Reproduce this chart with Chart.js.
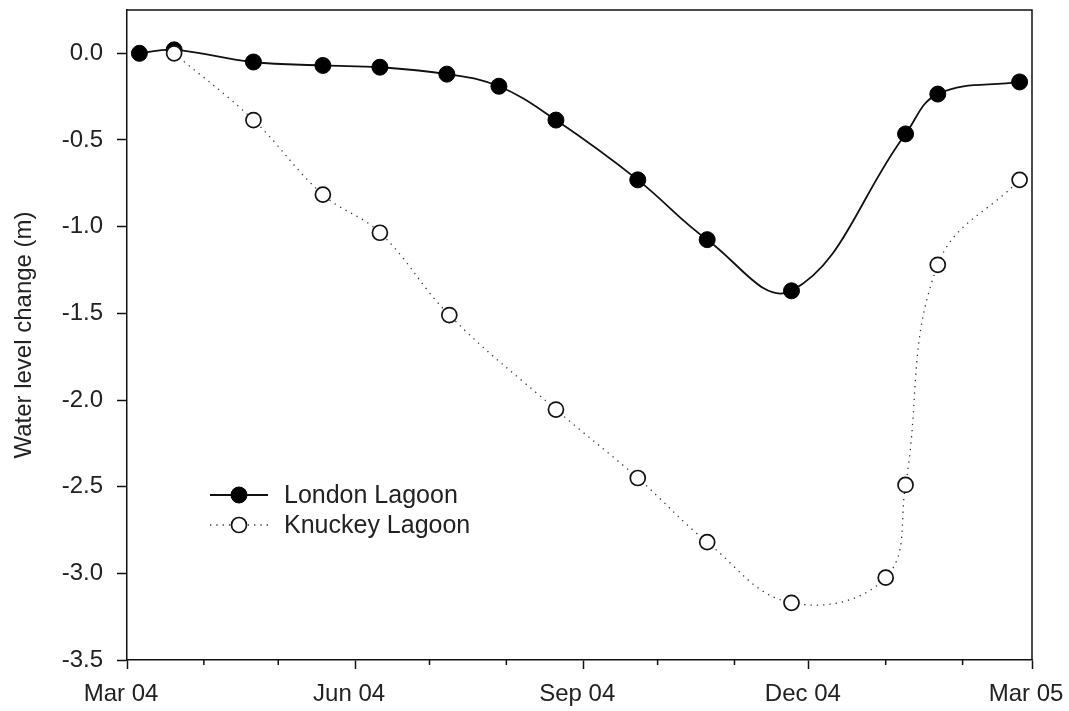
<!DOCTYPE html>
<html>
<head>
<meta charset="utf-8">
<script src="https://cdn.jsdelivr.net/npm/chart.js@4.4.1/dist/chart.umd.min.js"></script>
<style>
  body { margin: 0; background: #fff; }
  #wrap { width: 1069px; height: 711px; }
</style>
</head>
<body>
<div id="wrap"><canvas id="levelChart" width="1069" height="711"></canvas></div>
<script>
// sampling dates and water level change (m)
const londonDates = ['2004-03-06', '2004-03-20', '2004-04-21', '2004-05-19', '2004-06-11', '2004-07-08', '2004-07-29',
  '2004-08-21', '2004-09-23', '2004-10-21', '2004-11-24', '2005-01-09', '2005-01-22', '2005-02-24'];
const londonLevels = [0.0, 0.02, -0.05, -0.07, -0.08, -0.12, -0.19, -0.385, -0.73, -1.075, -1.37, -0.465, -0.235, -0.165];

const knuckeyDates = ['2004-03-20', '2004-04-21', '2004-05-19', '2004-06-11', '2004-07-09', '2004-08-21', '2004-09-23',
  '2004-10-21', '2004-11-24', '2005-01-01', '2005-01-09', '2005-01-22', '2005-02-24'];
const knuckeyLevels = [0.0, -0.385, -0.815, -1.035, -1.51, -2.055, -2.45, -2.82, -3.17, -3.025, -2.49, -1.22, -0.73];

// axis ticks
const majorDates = ['2004-03-01', '2004-06-01', '2004-09-01', '2004-12-01', '2005-03-01'];
const majorLabels = ['Mar 04', 'Jun 04', 'Sep 04', 'Dec 04', 'Mar 05'];
const minorDates = ['2004-04-01', '2004-05-01', '2004-07-01', '2004-08-01', '2004-10-01', '2004-11-01', '2005-01-01', '2005-02-01'];
const yTicks = [0.0, -0.5, -1.0, -1.5, -2.0, -2.5, -3.0, -3.5];

const FONT = '"Liberation Sans", Arial, Helvetica, sans-serif';

// days since 1 Mar 2004
const dayOf = (s) => {
  const p = s.split('-').map(Number);
  return (Date.UTC(p[0], p[1] - 1, p[2]) - Date.UTC(2004, 2, 1)) / 86400000;
};

const toPoints = (dates, vals) => dates.map((d, i) => ({ x: dayOf(d), y: vals[i] }));
const majorDays = majorDates.map(dayOf);
const minorDays = minorDates.map(dayOf);

// box round the plot + minor ticks on x
const framePlugin = {
  id: 'frame',
  afterDraw(chart) {
    const { ctx, chartArea: a, scales } = chart;
    ctx.save();
    ctx.strokeStyle = '#111';
    ctx.lineWidth = 1.5;
    ctx.beginPath();
    ctx.moveTo(a.left, a.top);
    ctx.lineTo(a.right, a.top);
    ctx.lineTo(a.right, a.bottom);
    ctx.stroke();
    ctx.beginPath();
    minorDays.forEach(d => {
      const x = scales.x.getPixelForValue(d);
      ctx.moveTo(x, a.bottom);
      ctx.lineTo(x, a.bottom + 5);
    });
    ctx.stroke();
    ctx.restore();
  }
};

// legend inside the plot
const legendPlugin = {
  id: 'innerLegend',
  afterDraw(chart) {
    const { ctx } = chart;
    const rows = [
      { ds: chart.data.datasets[1], y: 495 },
      { ds: chart.data.datasets[0], y: 525 },
    ];
    ctx.save();
    rows.forEach(r => {
      ctx.strokeStyle = r.ds.borderColor;
      ctx.lineWidth = r.ds.borderWidth;
      ctx.setLineDash(r.ds.borderDash || []);
      ctx.beginPath();
      ctx.moveTo(210, r.y);
      ctx.lineTo(268, r.y);
      ctx.stroke();
      ctx.setLineDash([]);
      ctx.beginPath();
      ctx.arc(239, r.y, r.ds.pointRadius, 0, Math.PI * 2);
      ctx.fillStyle = r.ds.pointBackgroundColor;
      ctx.fill();
      ctx.lineWidth = r.ds.pointBorderWidth;
      ctx.strokeStyle = r.ds.pointBorderColor;
      ctx.stroke();
      ctx.fillStyle = '#222';
      ctx.font = '25px ' + FONT;
      ctx.textBaseline = 'middle';
      ctx.fillText(r.ds.label, 284, r.y + 1);
    });
    ctx.restore();
  }
};

new Chart(document.getElementById('levelChart').getContext('2d'), {
  type: 'line',
  data: {
    datasets: [
      {
        label: 'Knuckey Lagoon',
        data: toPoints(knuckeyDates, knuckeyLevels),
        borderColor: '#333',
        borderWidth: 1.3,
        borderDash: [1.3, 5],
        tension: 0.4,
        pointRadius: 7.5,
        pointBackgroundColor: '#fff',
        pointBorderColor: '#111',
        pointBorderWidth: 1.7,
        order: 0,
      },
      {
        label: 'London Lagoon',
        data: toPoints(londonDates, londonLevels),
        borderColor: '#111',
        borderWidth: 1.8,
        tension: 0.4,
        pointRadius: 8,
        pointBackgroundColor: '#000',
        pointBorderColor: '#000',
        pointBorderWidth: 1,
        order: 1,
      },
    ],
  },
  options: {
    responsive: false,
    animation: false,
    layout: { padding: { top: 10, right: 37, left: 0, bottom: 0 } },
    plugins: {
      legend: { display: false },
      tooltip: { enabled: false },
    },
    scales: {
      x: {
        type: 'linear',
        min: 0,
        max: 365,
        afterBuildTicks: (s) => { s.ticks = majorDays.map(v => ({ value: v })); },
        afterFit: (s) => { s.height = 51; s.paddingLeft = 0; s.paddingRight = 0; },
        ticks: {
          autoSkip: false,
          maxRotation: 0,
          padding: 11,
          labelOffset: -6,
          color: '#222',
          font: { family: FONT, size: 24 },
          callback: (v) => majorLabels[majorDays.indexOf(v)],
        },
        grid: { drawOnChartArea: false, tickLength: 9, tickColor: '#111', tickWidth: 1.5 },
        border: { color: '#111', width: 1.5 },
      },
      y: {
        min: -3.5,
        max: 0.25,
        afterBuildTicks: (s) => { s.ticks = yTicks.map(v => ({ value: v })); },
        afterFit: (s) => { s.width = 127; s.paddingTop = 0; s.paddingBottom = 0; },
        ticks: {
          padding: 14,
          color: '#222',
          font: { family: FONT, size: 24 },
          callback: (v) => v.toFixed(1),
        },
        grid: { drawOnChartArea: false, tickLength: 10, tickColor: '#111', tickWidth: 1.5 },
        border: { color: '#111', width: 1.5 },
        title: {
          display: true,
          text: 'Water level change (m)',
          color: '#222',
          font: { family: FONT, size: 24 },
          padding: { top: 10, bottom: 0 },
        },
      },
    },
  },
  plugins: [framePlugin, legendPlugin],
});
</script>
</body>
</html>
